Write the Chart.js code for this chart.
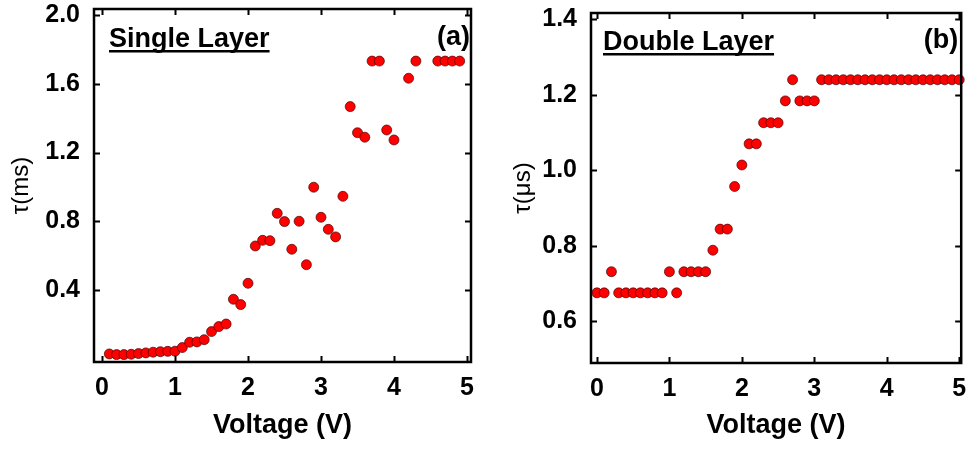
<!DOCTYPE html>
<html><head><meta charset="utf-8">
<script src="https://cdn.jsdelivr.net/npm/chart.js@4.4.1/dist/chart.umd.min.js"></script>
<style>
html,body{margin:0;padding:0;background:#fff;width:967px;height:449px;overflow:hidden}
#a{position:absolute;left:0;top:0;width:490px;height:449px}
#b{position:absolute;left:490px;top:0;width:477px;height:449px}
</style></head><body>
<div id="a"><canvas id="ca"></canvas></div>
<div id="b"><canvas id="cb"></canvas></div>
<script>
// ---- data ----
const xTickValues = [0, 1, 2, 3, 4, 5];
const singleYTicks = [0.4, 0.8, 1.2, 1.6, 2.0];
const doubleYTicks = [0.6, 0.8, 1.0, 1.2, 1.4];

const singleVoltage = [0.1,0.2,0.3,0.4,0.5,0.6,0.7,0.8,0.9,1.0,1.1,1.2,1.3,1.4,1.5,1.6,1.7,1.8,1.9,2.0,2.1,2.2,2.3,2.4,2.5,2.6,2.7,2.8,2.9,3.0,3.1,3.2,3.3,3.4,3.5,3.6,3.7,3.8,3.9,4.0,4.2,4.3,4.6,4.7,4.8,4.9];
const singleTau = [0.028,0.024,0.024,0.026,0.030,0.034,0.038,0.041,0.043,0.044,0.065,0.096,0.098,0.111,0.158,0.187,0.202,0.346,0.315,0.439,0.656,0.689,0.687,0.846,0.798,0.637,0.800,0.547,0.998,0.823,0.753,0.709,0.945,1.467,1.315,1.289,1.732,1.732,1.331,1.273,1.632,1.732,1.732,1.732,1.732,1.732];

const doubleVoltage = [0.0,0.1,0.2,0.3,0.4,0.5,0.6,0.7,0.8,0.9,1.0,1.1,1.2,1.3,1.4,1.5,1.6,1.7,1.8,1.9,2.0,2.1,2.2,2.3,2.4,2.5,2.6,2.7,2.8,2.9,3.0,3.1,3.2,3.3,3.4,3.5,3.6,3.7,3.8,3.9,4.0,4.1,4.2,4.3,4.4,4.5,4.6,4.7,4.8,4.9,5.0];
const doubleTau = [0.675,0.675,0.731,0.675,0.675,0.675,0.675,0.675,0.675,0.675,0.731,0.675,0.731,0.731,0.731,0.731,0.788,0.844,0.844,0.957,1.014,1.070,1.070,1.126,1.126,1.126,1.184,1.240,1.184,1.184,1.184,1.240,1.240,1.240,1.240,1.240,1.240,1.240,1.240,1.240,1.240,1.240,1.240,1.240,1.240,1.240,1.240,1.240,1.240,1.240,1.240];

const FONT = '"Liberation Sans", Arial, Helvetica, sans-serif';

const framePlugin = {
  id: 'frame',
  afterDatasetsDraw(chart, args, opts) {
    const ctx = chart.ctx;
    const a = chart.chartArea;
    const xs = chart.scales.x, ys = chart.scales.y;
    ctx.save();
    ctx.strokeStyle = '#000';
    ctx.lineWidth = 2;
    const tl = 6;
    ctx.beginPath();
    opts.xTicks.forEach(v => {
      const p = Math.round(xs.getPixelForValue(v)) + 0.5;
      ctx.moveTo(p, a.bottom); ctx.lineTo(p, a.bottom - tl);
      ctx.moveTo(p, a.top); ctx.lineTo(p, a.top + tl);
    });
    opts.yTicks.forEach(v => {
      const p = Math.round(ys.getPixelForValue(v)) + 0.5;
      ctx.moveTo(a.left, p); ctx.lineTo(a.left + tl, p);
      ctx.moveTo(a.right, p); ctx.lineTo(a.right - tl, p);
    });
    ctx.stroke();
    ctx.lineWidth = 2.5;
    ctx.strokeRect(a.left, a.top, a.right - a.left, a.bottom - a.top);
    // panel texts
    ctx.fillStyle = '#000';
    ctx.font = 'bold 27px ' + FONT;
    ctx.textBaseline = 'alphabetic';
    ctx.textAlign = 'left';
    const tx = a.left + opts.titleDx, ty = a.top + opts.titleDy;
    ctx.fillText(opts.title, tx, ty);
    const w = ctx.measureText(opts.title).width;
    ctx.fillRect(tx, ty + 3, w, 2.5);
    ctx.textAlign = 'right';
    ctx.fillText(opts.tag, a.right - opts.tagDx, a.top + opts.tagDy);
    ctx.restore();
  }
};

function makeChart(id, vx, vy, cfg) {
  return new Chart(document.getElementById(id), {
    type: 'scatter',
    data: { datasets: [{
      data: vx.map((x, i) => ({ x: x, y: vy[i] })),
      backgroundColor: '#ff0000',
      borderColor: 'rgba(70,0,0,0.85)',
      borderWidth: 0.8,
      pointRadius: 5,
      pointHoverRadius: 5,
      clip: false
    }]},
    options: {
      responsive: true,
      maintainAspectRatio: false,
      animation: false,
      events: [],
      layout: { padding: { top: cfg.padTop, right: cfg.padRight, bottom: 0, left: 0 } },
      plugins: {
        legend: { display: false },
        tooltip: { enabled: false },
        frame: { xTicks: xTickValues, yTicks: cfg.yTicks, title: cfg.title, tag: cfg.tag,
                 titleDx: cfg.titleDx, titleDy: cfg.titleDy, tagDx: cfg.tagDx, tagDy: cfg.tagDy }
      },
      scales: {
        x: {
          type: 'linear', min: cfg.xMin, max: cfg.xMax,
          grid: { display: false }, border: { display: false },
          afterBuildTicks: s => { s.ticks = xTickValues.map(v => ({ value: v })); },
          afterFit: s => { s.height = cfg.xHeight; s.paddingLeft = 0; s.paddingRight = 0; },
          ticks: { color: '#000', font: { family: FONT, size: 25, weight: 'bold' }, padding: 3,
                   maxRotation: 0, callback: v => String(v) },
          title: { display: true, text: 'Voltage (V)', color: '#000',
                   font: { family: FONT, size: 27, weight: 'bold' }, padding: { top: 0, bottom: 7 } }
        },
        y: {
          type: 'linear', min: cfg.yMin, max: cfg.yMax,
          grid: { display: false }, border: { display: false },
          afterBuildTicks: s => { s.ticks = cfg.yTicks.map(v => ({ value: v })); },
          afterFit: s => { s.width = cfg.yWidth; s.paddingTop = 0; s.paddingBottom = 0; },
          ticks: { color: '#000', font: { family: FONT, size: 25, weight: 'bold' }, padding: 6,
                   callback: v => Number(v).toFixed(1) },
          title: { display: true, text: cfg.yTitle, color: '#000',
                   font: { family: FONT, size: 24, weight: 'normal' }, padding: { top: cfg.yTitlePad, bottom: 0 } }
        }
      }
    },
    plugins: [framePlugin]
  });
}

makeChart('ca', singleVoltage, singleTau, {
  xMin: -0.11, xMax: 5.055, yMin: -0.019, yMax: 2.035,
  yTicks: singleYTicks, yWidth: 94, xHeight: 87, padTop: 9, padRight: 19,
  yTitle: 'τ(ms)', yTitlePad: 7,
  title: 'Single Layer', tag: '(a)', titleDx: 15, titleDy: 38, tagDx: 1, tagDy: 36
});
makeChart('cb', doubleVoltage, doubleTau, {
  xMin: -0.082, xMax: 5.027, yMin: 0.489, yMax: 1.417,
  yTicks: doubleYTicks, yWidth: 101, xHeight: 86, padTop: 13, padRight: 4,
  yTitle: 'τ(μs)', yTitlePad: 19,
  title: 'Double Layer', tag: '(b)', titleDx: 12, titleDy: 37, tagDx: 3, tagDy: 35
});
</script>
</body></html>
